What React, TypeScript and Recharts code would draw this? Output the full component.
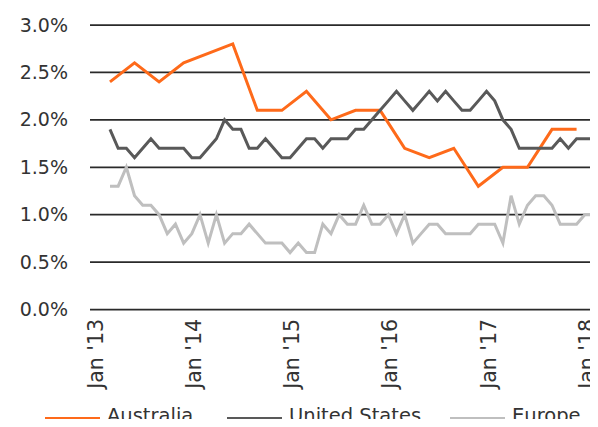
import { LineChart, Line, XAxis, YAxis, CartesianGrid } from "recharts";

// month index: 0 = Jan 2013; first observation is Mar 2013 (index 2)
const FIRST_MONTH = 2;

// quarterly, Mar 2013 .. Dec 2017
const australia = [
  2.4, 2.6, 2.4, 2.6, 2.7, 2.8, 2.1, 2.1, 2.3, 2.0,
  2.1, 2.1, 1.7, 1.6, 1.7, 1.3, 1.5, 1.5, 1.9, 1.9,
];

// monthly, Mar 2013 .. Feb 2018
const unitedStates = [
  1.9, 1.7, 1.7, 1.6, 1.7, 1.8, 1.7, 1.7, 1.7, 1.7,
  1.6, 1.6, 1.7, 1.8, 2.0, 1.9, 1.9, 1.7, 1.7, 1.8,
  1.7, 1.6, 1.6, 1.7, 1.8, 1.8, 1.7, 1.8, 1.8, 1.8,
  1.9, 1.9, 2.0, 2.1, 2.2, 2.3, 2.2, 2.1, 2.2, 2.3,
  2.2, 2.3, 2.2, 2.1, 2.1, 2.2, 2.3, 2.2, 2.0, 1.9,
  1.7, 1.7, 1.7, 1.7, 1.7, 1.8, 1.7, 1.8, 1.8, 1.8,
];

// monthly, Mar 2013 .. Mar 2018
const europe = [
  1.3, 1.3, 1.5, 1.2, 1.1, 1.1, 1.0, 0.8, 0.9, 0.7,
  0.8, 1.0, 0.7, 1.0, 0.7, 0.8, 0.8, 0.9, 0.8, 0.7,
  0.7, 0.7, 0.6, 0.7, 0.6, 0.6, 0.9, 0.8, 1.0, 0.9,
  0.9, 1.1, 0.9, 0.9, 1.0, 0.8, 1.0, 0.7, 0.8, 0.9,
  0.9, 0.8, 0.8, 0.8, 0.8, 0.9, 0.9, 0.9, 0.7, 1.2,
  0.9, 1.1, 1.2, 1.2, 1.1, 0.9, 0.9, 0.9, 1.0, 1.0,
  1.0,
];

const yTicks = [0, 0.5, 1, 1.5, 2, 2.5, 3];
const xTicks = [0, 12, 24, 36, 48, 60];
const xTickLabels = ["Jan '13", "Jan '14", "Jan '15", "Jan '16", "Jan '17", "Jan '18"];

const series = [
  { key: "aus", name: "Australia", color: "#FE6A1A" },
  { key: "us", name: "United States", color: "#595959" },
  { key: "eu", name: "Europe", color: "#BFBFBF" },
];

const FONT = "'DejaVu Sans', sans-serif";
const TEXT = "#333333";

const data = europe.map((eu, i) => {
  const m = FIRST_MONTH + i;
  return {
    m,
    aus: i % 3 === 0 && i / 3 < australia.length ? australia[i / 3] : null,
    us: i < unitedStates.length ? unitedStates[i] : null,
    eu,
  };
});

function YTick(props: any) {
  const { y, payload } = props;
  return (
    <text x={68} y={y} dy="0.35em" textAnchor="end" fill={TEXT} fontSize={19} fontFamily={FONT}>
      {payload.value.toFixed(1)}%
    </text>
  );
}

function XTick(props: any) {
  const { x, payload } = props;
  const idx = xTicks.indexOf(payload.value);
  const tx = x + 9;
  const ty = 319;
  return (
    <text
      x={tx}
      y={ty}
      transform={`rotate(-90, ${tx}, ${ty})`}
      textAnchor="end"
      fill={TEXT}
      fontSize={20.5}
      fontFamily={FONT}
    >
      {xTickLabels[idx]}
    </text>
  );
}

const legendLeft = [45, 227, 450];

export default function App() {
  return (
    <div
      style={{
        position: "relative",
        width: 598,
        height: 427,
        overflow: "hidden",
        margin: "-8px 0 -8px -8px",
        background: "#fff",
      }}
    >
      <svg width={598} height={10} style={{ position: "absolute", left: 0, top: 0 }}>
        <text x={166} y={-2} textAnchor="end" fontSize={28} fontWeight="bold" fill="#222" fontFamily={FONT}>
          Core inflation
        </text>
        <text x={172} y={-2} fontSize={28} fontWeight="bold" fill="#222" fontFamily={FONT}>
          (% year-on-year)
        </text>
      </svg>
      <LineChart
        width={618}
        height={427}
        data={data}
        margin={{ top: 25, right: 0, bottom: 27.5, left: 0 }}
      >
        <CartesianGrid vertical={false} stroke="#2a2a2a" strokeWidth={1.75} />
        <XAxis
          dataKey="m"
          type="number"
          domain={[-0.44, 64.06]}
          allowDataOverflow
          ticks={xTicks}
          interval={0}
          axisLine={false}
          tickLine={false}
          height={90}
          tick={<XTick />}
        />
        <YAxis
          domain={[0, 3]}
          ticks={yTicks}
          interval={0}
          axisLine={false}
          tickLine={false}
          width={90}
          tick={<YTick />}
        />
        {series.map((s) => (
          <Line
            key={s.key}
            dataKey={s.key}
            name={s.name}
            type="linear"
            stroke={s.color}
            strokeWidth={3}
            dot={false}
            activeDot={false}
            connectNulls
            isAnimationActive={false}
          />
        ))}
      </LineChart>
      {series.map((s, i) => (
        <div
          key={s.key}
          style={{
            position: "absolute",
            left: legendLeft[i],
            top: 404,
            display: "flex",
            alignItems: "center",
            fontFamily: FONT,
            fontSize: 19.5,
            color: TEXT,
            lineHeight: "24px",
            whiteSpace: "nowrap",
          }}
        >
          <span
            style={{
              display: "inline-block",
              width: 55,
              height: 4,
              background: s.color,
              marginRight: 7,
              marginTop: 6,
            }}
          />
          {s.name}
        </div>
      ))}
    </div>
  );
}
